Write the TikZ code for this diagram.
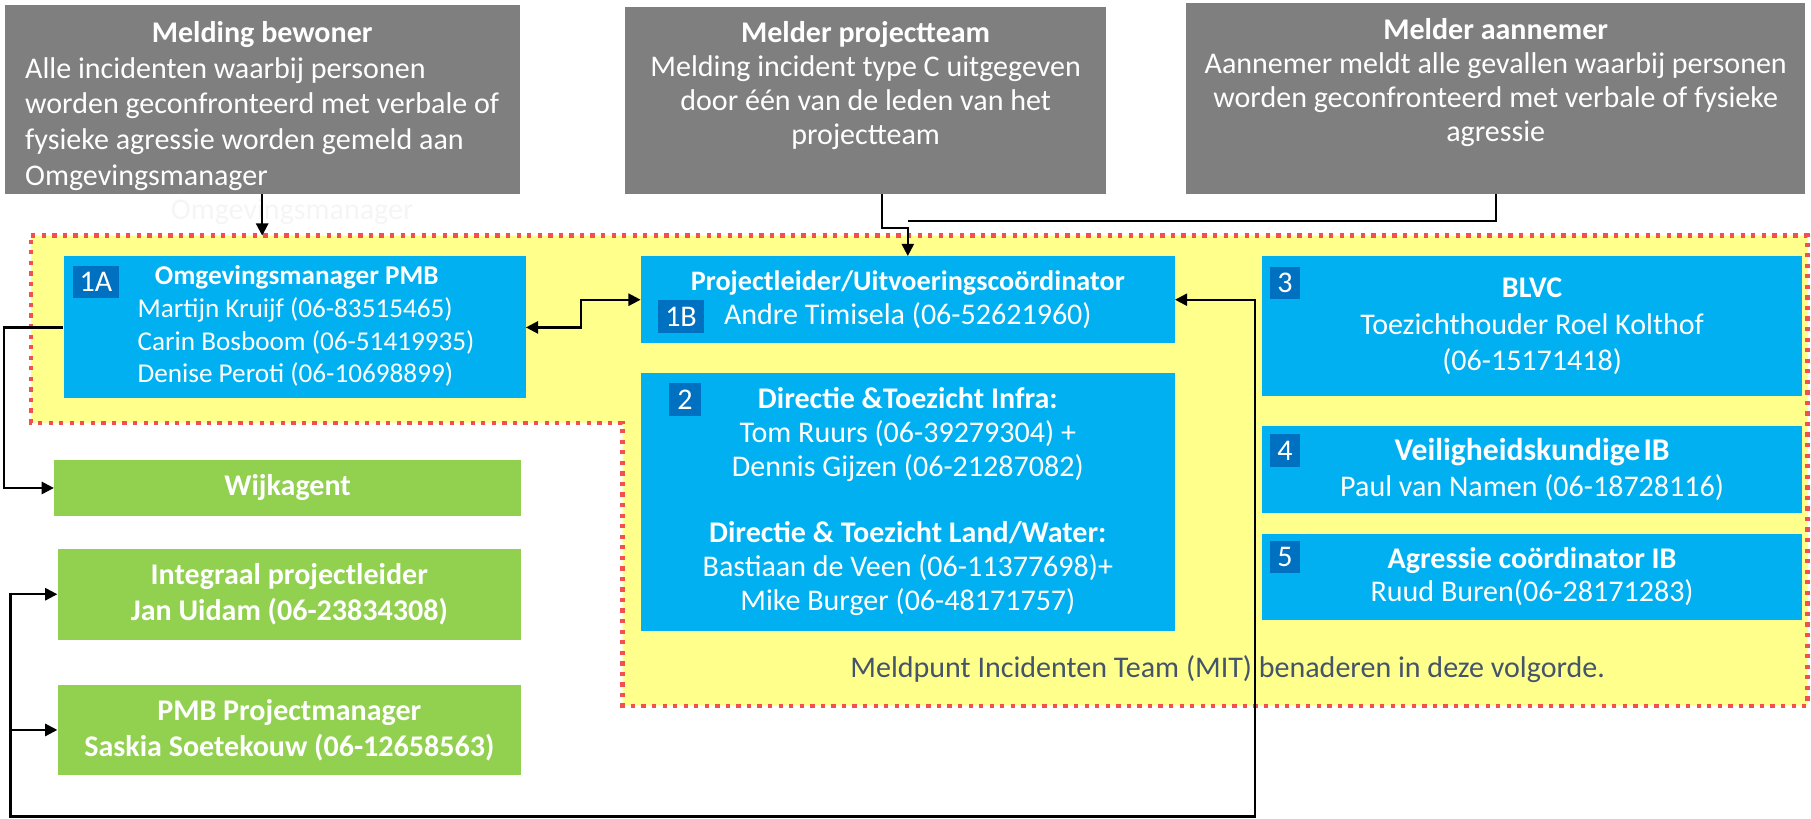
\documentclass[tikz,border=0pt]{standalone}
\usepackage{fontspec}
\setmainfont{Carlito}
\usetikzlibrary{arrows.meta,positioning}
\definecolor{boxgray}{HTML}{7F7F7F}
\definecolor{boxblue}{HTML}{00B0F0}
\definecolor{tagblue}{HTML}{0070C0}
\definecolor{boxgreen}{HTML}{92D050}
\definecolor{mityellow}{HTML}{FFFF8C}
\definecolor{mitred}{HTML}{F25050}
\definecolor{mittext}{HTML}{44546A}
\begin{document}
\begin{tikzpicture}[x=0.02cm,y=-0.02cm]
\tikzset{
    box/.style={rectangle, inner sep=0pt, text=white, align=center, font=\fontsize{14.8}{16.7}\selectfont},
    graybox/.style={box, fill=boxgray},
    bluebox/.style={box, fill=boxblue},
    greenbox/.style={box, fill=boxgreen, font=\bfseries\fontsize{14.8}{18}\selectfont},
    boxtext/.style={inner sep=0pt, text=white, align=center, font=\fontsize{14.8}{16.8}\selectfont},
    tag/.style={rectangle, fill=tagblue, text=white, inner xsep=0.12cm, inner ysep=0pt,
        minimum height=0.56cm, anchor=north west, font=\fontsize{14.8}{16}\selectfont},
    conn/.style={line width=1.1pt, black},
    mit/.style={fill=mityellow, draw=mitred, line width=2.1pt, dash pattern=on 2.1pt off 3.1pt},
    >={Triangle[length=6pt,width=6pt]}}
\def\px{0.02cm}

\useasboundingbox (0,0) rectangle (1568,709);

% meldpunt incidenten team
\draw[mit] (27,204)--(1565,204)--(1565,611)--(539,611)--(539,366)--(27,366)--cycle;
\coordinate (mittop) at (227,204);
\node[text=mittext, font=\fontsize{14.8}{17}\selectfont] (mitlbl) at (1063,579)
    {Meldpunt Incidenten Team (MIT) benaderen in deze volgorde.};

% melders
\node[graybox, minimum width=446*\px, minimum height=164*\px] (bew) at (227,86) {};
\node[boxtext, font=\fontsize{14.8}{17.6}\selectfont, below=0.22cm of bew.north] (bewtxt)
    {\begin{tabular}{@{}l@{}}
    \multicolumn{1}{@{}c@{}}{\textbf{Melding bewoner}}\\
    Alle incidenten waarbij personen\\
    worden geconfronteerd met verbale of\\
    fysieke agressie worden gemeld aan\\
    Omgevingsmanager
    \end{tabular}};
\node[graybox, minimum width=417*\px, minimum height=162*\px] (pt) at (749.5,87) {};
\node[boxtext, below=0.25cm of pt.north] (pttxt)
    {\textbf{Melder projectteam}\\Melding incident type C uitgegeven\\door één van de leden van het\\projectteam};
\node[graybox, minimum width=536*\px, minimum height=165*\px] (aan) at (1295,85.5) {};
\node[boxtext, below=0.26cm of aan.north] (aantxt)
    {\textbf{Melder aannemer}\\Aannemer meldt alle gevallen waarbij personen\\worden geconfronteerd met verbale of fysieke\\agressie};
\node[text=black!4, font=\fontsize{14.8}{17}\selectfont] (ghost) at (253,183) {Omgevingsmanager};

% MIT
\node[bluebox, minimum width=400*\px, minimum height=123*\px, font=\fontsize{13.4}{16.1}\selectfont] (om) at (255,283.5)
    {\begin{tabular}{@{\hspace{0.4cm}}l@{}}
    \hspace*{0.3cm}\textbf{Omgevingsmanager PMB}\\
    Martijn Kruijf (06-83515465)\\
    Carin Bosboom (06-51419935)\\
    Denise Peroti (06-10698899)
    \end{tabular}};
\node[bluebox, minimum width=462*\px, minimum height=75*\px, font=\fontsize{14.8}{16.4}\selectfont] (pl) at (786,259.5)
    {{\fontsize{13.9}{16.4}\selectfont\textbf{Projectleider/Uitvoeringscoördinator}}\\Andre Timisela (06-52621960)};
\node[bluebox, minimum width=462*\px, minimum height=223*\px] (dt) at (786,434.5)
    {\textbf{Directie \&Toezicht Infra:}\\Tom Ruurs (06-39279304) +\\Dennis Gijzen (06-21287082)\\[16pt]
    \textbf{Directie \& Toezicht Land/Water:}\\Bastiaan de Veen (06-11377698)+\\Mike Burger (06-48171757)};
\node[bluebox, minimum width=467*\px, minimum height=121*\px, font=\fontsize{14.8}{18.2}\selectfont] (blvc) at (1326.5,282.5)
    {\textbf{BLVC}\\Toezichthouder Roel Kolthof\\(06-15171418)};
\node[bluebox, minimum width=467*\px, minimum height=75*\px, font=\fontsize{14.8}{17.3}\selectfont] (vk) at (1326.5,406.5)
    {{\fontsize{15.6}{17.3}\selectfont\textbf{Veiligheidskundige\hspace{0.1em}IB}}\\Paul van Namen (06-18728116)};
\node[bluebox, minimum width=467*\px, minimum height=75*\px, font=\fontsize{14.8}{16.2}\selectfont] (ac) at (1326.5,499.5)
    {\textbf{Agressie coördinator IB}\\Ruud Buren(06-28171283)};

\node[tag] (t1a) at ([shift={(8,8)}]om.north west) {1A};
\node[tag] (t1b) at ([shift={(15,38)}]pl.north west) {1B};
\node[tag, minimum width=28*\px] (t2) at ([shift={(24,9)}]dt.north west) {2};
\node[tag] (t3) at ([shift={(7,9)}]blvc.north west) {3};
\node[tag] (t4) at ([shift={(7,7)}]vk.north west) {4};
\node[tag] (t5) at ([shift={(7,6)}]ac.north west) {5};

% overig
\node[greenbox, minimum width=404*\px, minimum height=49*\px] (wijk) at (249,422.5) {Wijkagent};
\node[greenbox, minimum width=401*\px, minimum height=79*\px] (ipl) at (250.5,514.5)
    {Integraal projectleider\\Jan Uidam (06-23834308)};
\node[greenbox, minimum width=401*\px, minimum height=78*\px, font=\bfseries\fontsize{14.8}{17.6}\selectfont] (pmb) at (250.5,632)
    {PMB Projectmanager\\Saskia Soetekouw (06-12658563)};

% verbindingen
\draw[conn,->] (bew) -- (mittop);
\draw[conn,->] ([xshift=0.28cm]pt.south) -- ++(0,29) -| (pl.north);
\draw[conn] (aan.south) |- ([yshift=0.6cm]pl.north);
\draw[conn,<->] (om.east) -- ++(48,0) |- (pl.west);
\draw[conn,->] (om.west) -- ++(-51,0) |- (wijk.west);
\coordinate (lb) at (9,707);
\draw[conn,<->] (pl.east) -- ++(69,0) |- (lb) |- (ipl.west);
\draw[conn,->] (lb |- pmb.west) -- (pmb.west);

\end{tikzpicture}
\end{document}
